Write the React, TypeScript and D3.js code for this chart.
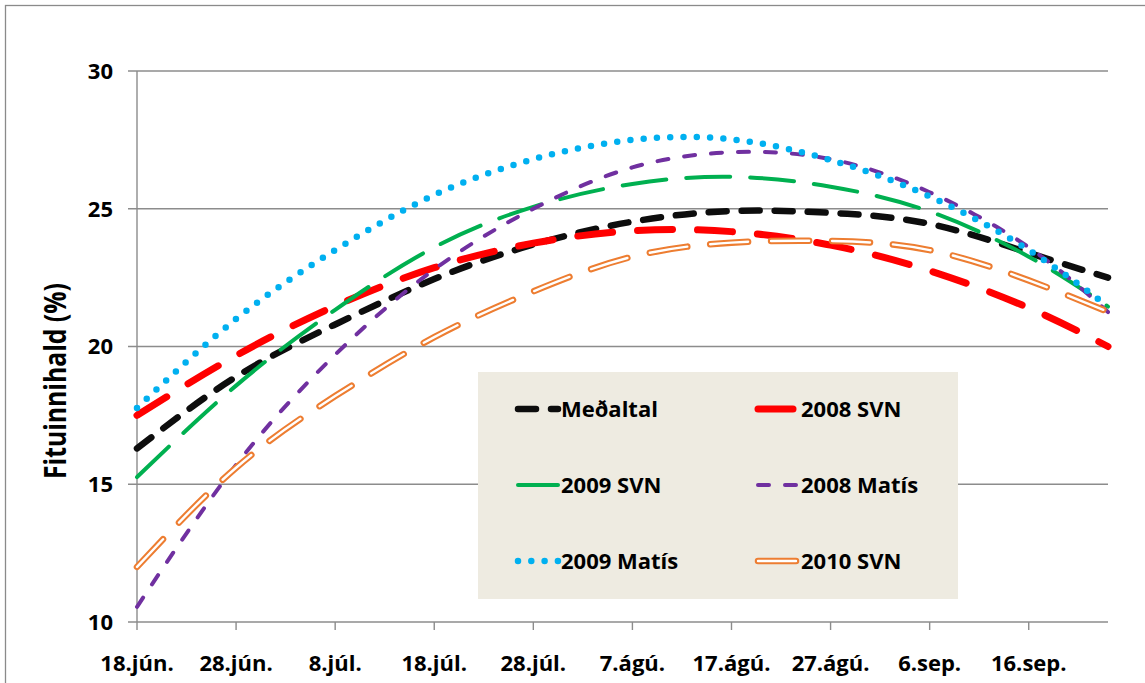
import React from 'react';
import * as d3 from 'd3';

// sample days counted from 18. júní
const days = [0, 10, 20, 30, 40, 50, 60, 70, 80, 90, 98];
const tickDays = [0, 10, 20, 30, 40, 50, 60, 70, 80, 90];
const tickLabels = ['18.jún.', '28.jún.', '8.júl.', '18.júl.', '28.júl.', '7.ágú.', '17.ágú.', '27.ágú.', '6.sep.', '16.sep.'];
const yTicks = [10, 15, 20, 25, 30];

const medaltal = [16.3, 18.9, 20.8, 22.45, 23.7, 24.53, 24.92, 24.85, 24.45, 23.4, 22.5];
const svn2008 = [17.5, 19.67, 21.47, 22.86, 23.75, 24.2, 24.17, 23.68, 22.75, 21.4, 20.0];
const svn2009 = [15.26, 18.58, 21.33, 23.6, 25.07, 25.9, 26.16, 25.8, 24.9, 23.26, 21.45];
const matis2008 = [10.55, 15.7, 19.7, 22.8, 25.0, 26.5, 27.05, 26.8, 25.6, 23.6, 21.25];
const matis2009 = [17.77, 21.0, 23.5, 25.5, 26.8, 27.5, 27.52, 26.77, 25.45, 23.5, 21.45];
const svn2010 = [12.0, 15.6, 18.2, 20.34, 22.0, 23.26, 23.77, 23.83, 23.5, 22.4, 21.26];

const seriesNames = ['Meðaltal', '2008 SVN', '2009 SVN', '2008 Matís', '2009 Matís', '2010 SVN'];

type Style = { color: string; width: number; dash: string; double?: boolean };

const styles: Style[] = [
  { color: '#0d0d0d', width: 6.5, dash: '18 15' },
  { color: '#ff0000', width: 7, dash: '35 25' },
  { color: '#00b050', width: 4, dash: '44 20' },
  { color: '#7030a0', width: 4, dash: '11 16' },
  { color: '#00b0f0', width: 6.5, dash: '0 13.3' },
  { color: '#ed7d31', width: 6.5, dash: '38 23', double: true },
];

const allSeries = [medaltal, svn2008, svn2009, matis2008, matis2009, svn2010];

const W = 1145;
const H = 683;
const FONT = '"Open Sans", "DejaVu Sans", sans-serif';

const x = d3.scaleLinear().domain([0, 98]).range([137, 1108]);
const y = d3.scaleLinear().domain([10, 30]).range([622, 71]);

const line = d3
  .line<number>()
  .x((_, i) => x(days[i]))
  .y((d) => y(d))
  .curve(d3.curveNatural);

const StyledPath: React.FC<{ d: string; s: Style }> = ({ d, s }) => (
  <g>
    <path d={d} fill="none" stroke={s.color} strokeWidth={s.width} strokeDasharray={s.dash} strokeLinecap="round" />
    {s.double && (
      <path d={d} fill="none" stroke="#ffffff" strokeWidth={2.4} strokeDasharray={s.dash} strokeLinecap="round" />
    )}
  </g>
);

const App: React.FC = () => {
  const legendCols = [518, 758];
  const legendRows = [409, 485, 561];

  return (
    <svg width={W} height={H} style={{ position: 'absolute', left: 0, top: 0, background: '#fff' }} fontFamily={FONT}>
      <rect x={5.5} y={5.5} width={W + 20} height={H + 20} fill="#fff" stroke="#8a8a8a" strokeWidth={1.3} />

      {/* gridlines + y ticks */}
      {yTicks.map((t) => (
        <g key={t}>
          <line x1={128} x2={1108} y1={y(t)} y2={y(t)} stroke="#8c8c8c" strokeWidth={1.4} />
          <text x={113} y={y(t)} dy="0.36em" textAnchor="end" fontSize={22} fontWeight="bold" fill="#000">
            {t}
          </text>
        </g>
      ))}
      {/* y axis */}
      <line x1={137} x2={137} y1={y(30)} y2={y(10)} stroke="#8c8c8c" strokeWidth={1.4} />
      {/* x ticks */}
      {tickDays.map((d, i) => (
        <g key={d}>
          <line x1={x(d)} x2={x(d)} y1={y(10)} y2={y(10) + 8} stroke="#8c8c8c" strokeWidth={1.4} />
          <text x={x(d)} y={671} textAnchor="middle" fontSize={22} fontWeight="bold" fill="#000">
            {tickLabels[i]}
          </text>
        </g>
      ))}

      <text
        transform="translate(66,381) rotate(-90)"
        textAnchor="middle"
        fontSize={30}
        fontWeight="bold"
        fill="#000"
        textLength={196}
        lengthAdjust="spacingAndGlyphs"
      >
        Fituinnihald (%)
      </text>

      {/* series */}
      {allSeries.map((vals, i) => (
        <StyledPath key={seriesNames[i]} d={line(vals) || ''} s={styles[i]} />
      ))}

      {/* legend */}
      <rect x={478} y={372} width={480} height={227} fill="#eeebe1" />
      {seriesNames.map((name, i) => {
        const cx = legendCols[i % 2];
        const cy = legendRows[Math.floor(i / 2)];
        const s = styles[i];
        return (
          <g key={name}>
            <StyledPath d={`M${cx},${cy}L${cx + 40},${cy}`} s={s} />
            <text x={cx + 43} y={cy} dy="0.36em" fontSize={22} fontWeight="bold" fill="#000">
              {name}
            </text>
          </g>
        );
      })}
    </svg>
  );
};

export default App;
